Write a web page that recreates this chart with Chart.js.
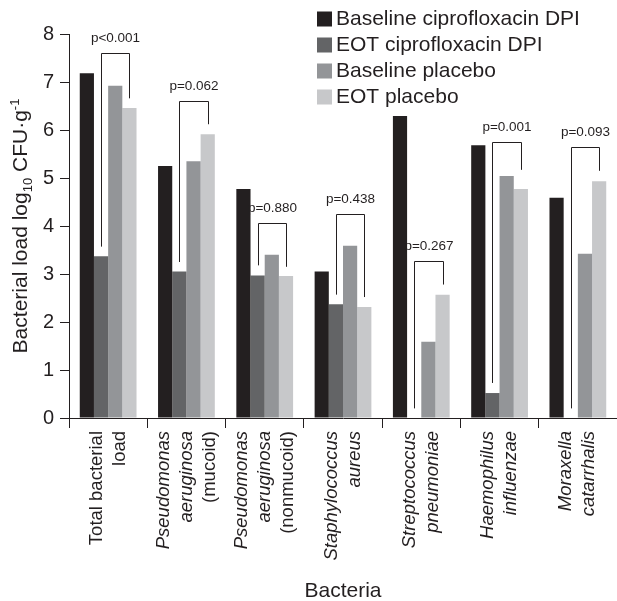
<!DOCTYPE html>
<html>
<head>
<meta charset="utf-8">
<script src="https://cdn.jsdelivr.net/npm/chart.js@4"></script>
<style>
  body { margin: 0; background: #fff; }
  canvas { display: block; }
</style>
</head>
<body>
<canvas id="chart" width="617" height="601"></canvas>
<script>
const categories = [
  ['Total bacterial', 'load'],
  ['Pseudomonas', 'aeruginosa', '(mucoid)'],
  ['Pseudomonas', 'aeruginosa', '(nonmucoid)'],
  ['Staphylococcus', 'aureus'],
  ['Streptococcus', 'pneumoniae'],
  ['Haemophilus', 'influenzae'],
  ['Moraxella', 'catarrhalis']
];
const italicLines = [
  [false, false],
  [true, true, false],
  [true, true, false],
  [true, true],
  [true, true],
  [true, true],
  [true, true]
];

const seriesNames = ['Baseline ciprofloxacin DPI', 'EOT ciprofloxacin DPI', 'Baseline placebo', 'EOT placebo'];
const baselineCipro = [7.18, 5.25, 4.77, 3.05, 6.29, 5.68, 4.59];
const eotCipro = [3.37, 3.05, 2.97, 2.37, null, 0.52, null];
const baselinePlacebo = [6.92, 5.35, 3.40, 3.59, 1.59, 5.04, 3.42];
const eotPlacebo = [6.46, 5.91, 2.96, 2.31, 2.57, 4.77, 4.93];

const yTicks = [0, 1, 2, 3, 4, 5, 6, 7, 8];

// p-value brackets: EOT cipro bar -> EOT placebo bar
const pLabels = ['p<0.001', 'p=0.062', 'p=0.880', 'p=0.438', 'p=0.267', 'p=0.001', 'p=0.093'];
const bracketTop = [7.6, 6.61, 4.07, 4.26, 3.27, 5.75, 5.64];
const bracketLeftEnd = [3.57, 3.25, 3.18, 2.57, 0.2, 0.73, 0.2];
const bracketRightEnd = [6.66, 6.12, 3.15, 2.52, 2.78, 5.17, 5.15];

const colors = ['#231f20', '#636466', '#939598', '#c7c8ca'];
const ink = '#231f20';
const family = "'Liberation Sans', Arial, Helvetica, sans-serif";

const extras = {
  id: 'extras',
  afterDraw(chart) {
    const ctx = chart.ctx;
    const x = chart.scales.x, y = chart.scales.y;
    const area = chart.chartArea;
    const m2 = chart.getDatasetMeta(2), m3 = chart.getDatasetMeta(3);

    ctx.save();
    ctx.fillStyle = ink;
    ctx.strokeStyle = ink;

    // brackets + p labels
    ctx.lineWidth = 1;
    ctx.font = '13.5px ' + family;
    ctx.textAlign = 'center';
    ctx.textBaseline = 'middle';
    pLabels.forEach((lab, i) => {
      const xr = m3.data[i].x;
      const xl = m2.data[i].x - (xr - m2.data[i].x);
      const yt = Math.round(y.getPixelForValue(bracketTop[i])) + 0.5;
      const l = Math.round(xl) + 0.5, r = Math.round(xr) + 0.5;
      ctx.beginPath();
      ctx.moveTo(l, y.getPixelForValue(bracketLeftEnd[i]));
      ctx.lineTo(l, yt);
      ctx.lineTo(r, yt);
      ctx.lineTo(r, y.getPixelForValue(bracketRightEnd[i]));
      ctx.stroke();
      ctx.fillText(lab, (l + r) / 2, yt - 15);
    });

    // legend
    ctx.font = '21px ' + family;
    ctx.textAlign = 'left';
    seriesNames.forEach((name, i) => {
      const cy = 18.5 + i * 26;
      ctx.fillStyle = colors[i];
      ctx.fillRect(317, cy - 7, 15, 15);
      ctx.fillStyle = ink;
      ctx.fillText(name, 336, cy + 1);
    });

    // y axis title with sub/superscript
    const parts = [
      { t: 'Bacterial load log', size: 21, shift: 0 },
      { t: '10', size: 13, shift: 5 },
      { t: ' CFU\u00b7g', size: 21, shift: 0 },
      { t: '-1', size: 13, shift: -8 }
    ];
    let total = 0;
    parts.forEach(p => { ctx.font = p.size + 'px ' + family; p.w = ctx.measureText(p.t).width; total += p.w; });
    ctx.translate(27, (area.top + area.bottom) / 2);
    ctx.rotate(-Math.PI / 2);
    ctx.textBaseline = 'alphabetic';
    let px = -total / 2;
    parts.forEach(p => {
      ctx.font = p.size + 'px ' + family;
      ctx.fillText(p.t, px, p.shift);
      px += p.w;
    });
    ctx.setTransform(1, 0, 0, 1, 0, 0);

    // category labels, rotated
    ctx.textAlign = 'right';
    ctx.textBaseline = 'middle';
    categories.forEach((lines, i) => {
      const c = x.getPixelForValue(i);
      lines.forEach((line, j) => {
        const lx = c + (j - (lines.length - 1) / 2) * 23;
        ctx.save();
        ctx.translate(lx, 431);
        ctx.rotate(-Math.PI / 2);
        ctx.font = (italicLines[i][j] ? 'italic ' : '') + '18.5px ' + family;
        ctx.fillText(line, 0, 0);
        ctx.restore();
      });
    });

    // x axis title
    ctx.font = '21px ' + family;
    ctx.textAlign = 'center';
    ctx.fillText('Bacteria', (area.left + area.right) / 2, 591);

    ctx.restore();
  }
};

new Chart(document.getElementById('chart'), {
  type: 'bar',
  data: {
    labels: categories,
    datasets: [baselineCipro, eotCipro, baselinePlacebo, eotPlacebo].map((d, i) => ({
      label: seriesNames[i],
      data: d,
      backgroundColor: colors[i],
      borderWidth: 0
    }))
  },
  options: {
    responsive: false,
    animation: false,
    layout: { padding: { top: 34, right: 0, left: 0, bottom: 0 } },
    datasets: { bar: { categoryPercentage: 0.725, barPercentage: 1 } },
    plugins: { legend: { display: false }, tooltip: { enabled: false } },
    scales: {
      x: {
        grid: { offset: true, drawOnChartArea: false, tickLength: 10, color: ink },
        border: { color: ink },
        ticks: { display: false },
        afterFit(s) { s.height = 183; }
      },
      y: {
        min: yTicks[0],
        max: yTicks[yTicks.length - 1],
        afterBuildTicks(s) { s.ticks = yTicks.map(v => ({ value: v })); },
        ticks: { font: { size: 20, family: family }, color: ink, padding: 6 },
        grid: { drawOnChartArea: false, tickLength: 9, color: ink },
        border: { color: ink },
        afterFit(s) { s.width = 69; }
      }
    }
  },
  plugins: [extras]
});
</script>
</body>
</html>
